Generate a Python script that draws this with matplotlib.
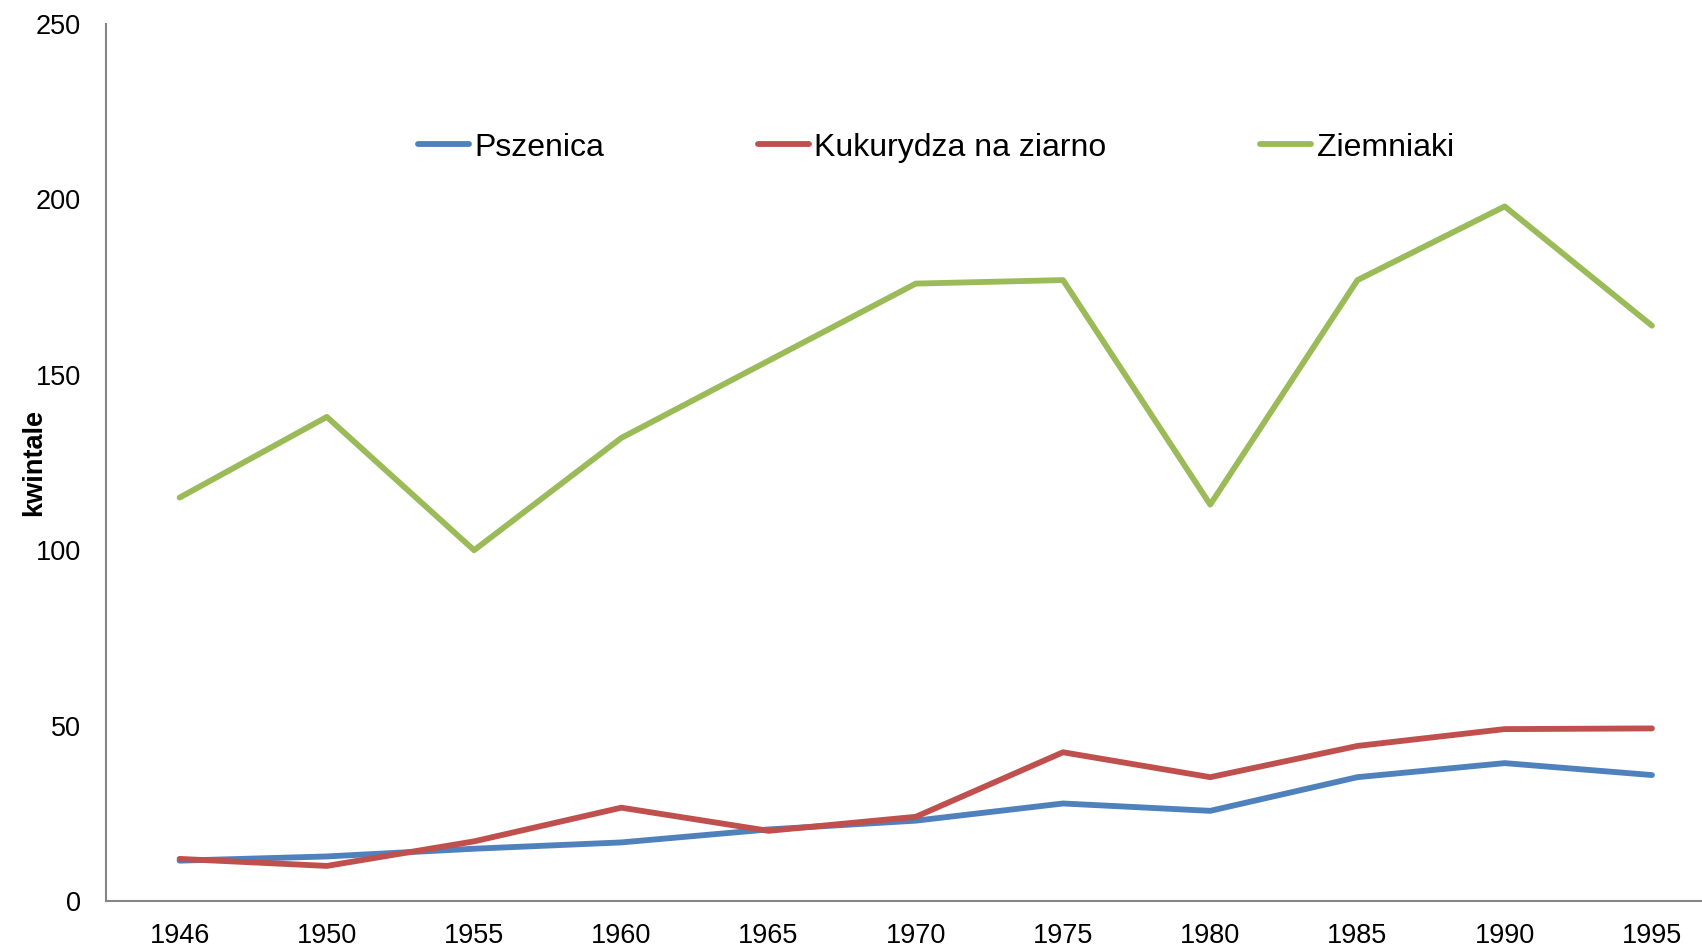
import matplotlib.pyplot as plt

plt.rcParams['font.family'] = ['Liberation Sans', 'DejaVu Sans']

lata = ['1946', '1950', '1955', '1960', '1965', '1970', '1975', '1980', '1985', '1990', '1995']
pszenica = [11.5, 12.7, 14.9, 16.7, 20.4, 22.9, 27.8, 25.7, 35.3, 39.3, 35.9]
kukurydza = [12, 10, 17, 26.6, 20, 24, 42.4, 35.3, 44.2, 49, 49.2]
ziemniaki = [115, 138, 100, 132, 154, 176, 177, 113, 177, 198, 164]

fig = plt.figure(figsize=(17.02, 9.46), dpi=100)
ax = fig.add_axes([106 / 1702, 1 - 901 / 946, (1702 - 106) / 1702, 877 / 946])

x = range(len(lata))
ax.plot(x, pszenica, color='#4F81BD', lw=4.2, label='Pszenica', solid_capstyle='round')
ax.plot(x, kukurydza, color='#C0504D', lw=4.2, label='Kukurydza na ziarno', solid_capstyle='round')
ax.plot(x, ziemniaki, color='#9BBB59', lw=4.2, label='Ziemniaki', solid_capstyle='round')

ax.set_xlim(-0.5, 10.34)
ax.set_ylim(0, 250)
ax.set_yticks([0, 50, 100, 150, 200, 250])
ax.set_xticks(list(x))
ax.set_xticklabels(lata)
ax.tick_params(axis='both', length=0, labelsize=19.5)
ax.tick_params(axis='y', pad=18)
ax.tick_params(axis='x', pad=16)

for s in ['top', 'right']:
    ax.spines[s].set_visible(False)
for s in ['left', 'bottom']:
    ax.spines[s].set_color('#868686')
    ax.spines[s].set_linewidth(1.5)

ax.set_ylabel('kwintale', fontsize=19.5, fontweight='bold')
ax.yaxis.set_label_coords(-0.037, 0.5)

ax.legend(loc='center', bbox_to_anchor=(0.52, 0.859), ncol=3, frameon=False,
          fontsize=23, handlelength=1.6, handletextpad=0.17, columnspacing=4.8)

plt.savefig('out.png', dpi=100)
